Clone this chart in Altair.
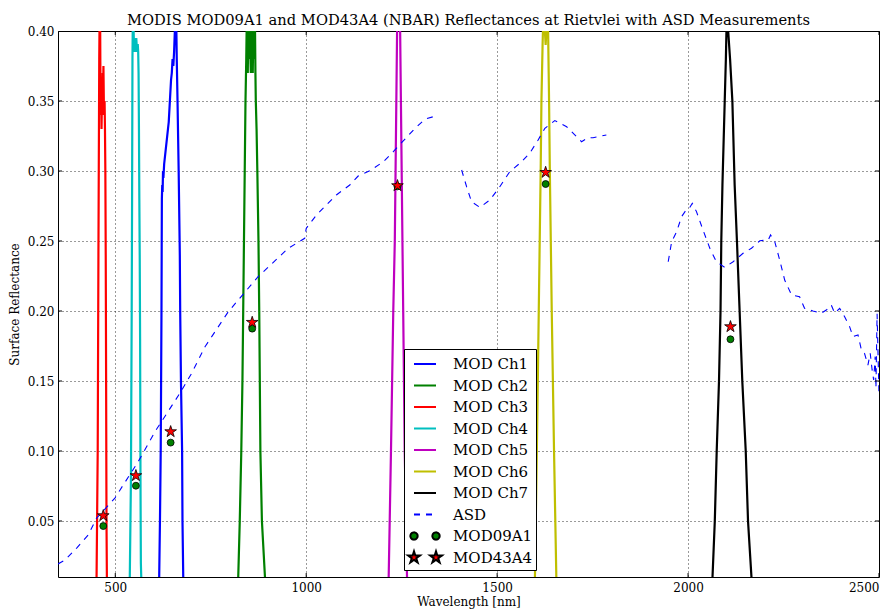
import math
import altair as alt
import pandas as pd

# ---------------- data ----------------
ch1_wl = [612, 615, 617, 619, 621, 622, 623, 624, 625, 626, 628, 630, 632, 634, 636, 638, 640, 642, 644, 646, 648, 650, 652, 654, 656, 658, 660, 661, 663, 666, 669, 670, 672, 675, 676, 678, 681]
ch1_val = [0.0, 0.01, 0.05, 0.10, 0.20, 0.28, 0.29, 0.285, 0.30, 0.295, 0.305, 0.31, 0.315, 0.32, 0.325, 0.33, 0.335, 0.345, 0.355, 0.365, 0.37, 0.38, 0.375, 0.385, 0.40, 0.42, 0.40, 0.38, 0.35, 0.30, 0.24, 0.20, 0.15, 0.10, 0.05, 0.01, 0.0]

ch2_wl = [816, 822, 826, 830, 833, 835, 839, 841, 843, 844, 845, 846, 847, 848, 849, 850, 851, 852, 853, 854, 855, 856, 857, 858, 859, 860, 861, 862, 863, 864, 865, 866, 867, 868, 870, 872, 875, 877, 880, 884, 892, 897]
ch2_val = [0.0, 0.01, 0.05, 0.10, 0.15, 0.20, 0.30, 0.35, 0.38, 0.40, 0.42, 0.39, 0.37, 0.395, 0.38, 0.40, 0.385, 0.39, 0.40, 0.38, 0.37, 0.39, 0.40, 0.385, 0.39, 0.37, 0.39, 0.40, 0.38, 0.39, 0.395, 0.40, 0.37, 0.35, 0.33, 0.30, 0.25, 0.20, 0.10, 0.05, 0.01, 0.0]

ch3_wl = [447, 451, 454, 456, 458, 459, 460, 461, 462, 463, 464, 465, 466, 467, 468, 469, 470, 471, 472, 473, 474, 475, 476, 477, 478, 481]
ch3_val = [0.0, 0.01, 0.10, 0.25, 0.38, 0.41, 0.43, 0.37, 0.34, 0.36, 0.33, 0.35, 0.34, 0.37, 0.355, 0.375, 0.35, 0.34, 0.35, 0.33, 0.30, 0.24, 0.15, 0.05, 0.01, 0.0]

ch4_wl = [535, 538, 541, 543, 544, 545, 546, 547, 548, 549, 550, 551, 552, 553, 554, 555, 556, 557, 558, 559, 560, 561, 562, 563, 564, 565, 566, 567, 569]
ch4_val = [0.0, 0.01, 0.08, 0.20, 0.28, 0.38, 0.41, 0.42, 0.40, 0.39, 0.395, 0.385, 0.395, 0.39, 0.385, 0.395, 0.39, 0.385, 0.39, 0.39, 0.385, 0.37, 0.33, 0.28, 0.24, 0.18, 0.08, 0.02, 0.0]

ch5_wl = [1205, 1216, 1222, 1228, 1232, 1234, 1236, 1238, 1242, 1246, 1248, 1250, 1252, 1254, 1258, 1264, 1275]
ch5_val = [0.0, 0.01, 0.10, 0.20, 0.25, 0.30, 0.35, 0.40, 0.46, 0.40, 0.35, 0.30, 0.25, 0.20, 0.10, 0.01, 0.0]

ch6_wl = [1590, 1599, 1604, 1609, 1614, 1616, 1619, 1621, 1623, 1625, 1627, 1629, 1631, 1633, 1635, 1636, 1638, 1643, 1649, 1655, 1665]
ch6_val = [0.0, 0.01, 0.10, 0.20, 0.30, 0.35, 0.39, 0.41, 0.42, 0.40, 0.39, 0.40, 0.42, 0.41, 0.37, 0.35, 0.30, 0.20, 0.10, 0.01, 0.0]

ch7_wl = [2055, 2064, 2070, 2075, 2081, 2085, 2087, 2090, 2096, 2099, 2102, 2105, 2110, 2116, 2122, 2128, 2135, 2142, 2151, 2157, 2166, 2175]
ch7_val = [0.0, 0.01, 0.05, 0.10, 0.15, 0.20, 0.25, 0.29, 0.35, 0.38, 0.42, 0.40, 0.38, 0.35, 0.29, 0.25, 0.20, 0.15, 0.10, 0.05, 0.01, 0.0]

asd1_wl = [350, 368, 400, 429, 451, 499, 560, 604, 669, 700, 735, 796, 874, 953, 996, 1000, 1027, 1079, 1114, 1136, 1167, 1202, 1228, 1258, 1285, 1311, 1339]
asd1_val = [0.0193, 0.022, 0.031, 0.040, 0.052, 0.0664, 0.0924, 0.1138, 0.1412, 0.1555, 0.1745, 0.1995, 0.2245, 0.2448, 0.2519, 0.259, 0.2686, 0.2829, 0.290, 0.2964, 0.3002, 0.3066, 0.3138, 0.3226, 0.3305, 0.337, 0.3393]

asd2_wl = [1407, 1420, 1433, 1455, 1481, 1507, 1533, 1564, 1586, 1607, 1625, 1651, 1682, 1708, 1721, 1738, 1751, 1786]
asd2_val = [0.3007, 0.2888, 0.278, 0.274, 0.2793, 0.2888, 0.2995, 0.3066, 0.313, 0.322, 0.3305, 0.336, 0.3316, 0.3245, 0.3209, 0.3238, 0.3238, 0.3257]

asd3_wl = [1948, 1957, 1970, 1983, 1996, 2003, 2011, 2022, 2039, 2057, 2074, 2096, 2118, 2144, 2166, 2188, 2210, 2216, 2227, 2240, 2253, 2271, 2292, 2305, 2327, 2349, 2362, 2375, 2384, 2397, 2410, 2423, 2432, 2445, 2454, 2462, 2471, 2477, 2482, 2486, 2490, 2492, 2495, 2500]
asd3_val = [0.2352, 0.2495, 0.2566, 0.2674, 0.2726, 0.2733, 0.2769, 0.271, 0.2579, 0.2448, 0.2352, 0.2312, 0.2352, 0.2412, 0.2448, 0.2502, 0.2507, 0.2543, 0.2495, 0.2364, 0.2221, 0.2114, 0.2102, 0.2019, 0.200, 0.1984, 0.2007, 0.2043, 0.1984, 0.2019, 0.1959, 0.1888, 0.1817, 0.1829, 0.1721, 0.1698, 0.1614, 0.1698, 0.1579, 0.1507, 0.1674, 0.145, 0.198, 0.140]

band_wl = [468.6, 554, 645, 858.6, 1239, 1627, 2111]
mod09_val = [0.0464, 0.0752, 0.106, 0.1874, 0.289, 0.2907, 0.1798]
mod43_val = [0.0538, 0.0824, 0.1138, 0.1919, 0.2895, 0.299, 0.1888]

x_ticks = [500, 1000, 1500, 2000, 2500]
y_ticks = [0.05, 0.10, 0.15, 0.20, 0.25, 0.30, 0.35, 0.40]
x_min, x_max = 350, 2500
y_min, y_max = 0.01, 0.40

series_names = ["MOD Ch1", "MOD Ch2", "MOD Ch3", "MOD Ch4", "MOD Ch5", "MOD Ch6", "MOD Ch7", "ASD", "MOD09A1", "MOD43A4"]
series_colors = ["#0000ff", "#008000", "#ff0000", "#00bfbf", "#bf00bf", "#bfbf00", "#000000", "#0000ff", "#008000", "#ff0000"]

# ---------------- tables ----------------
srf_rows = []
for name, wl, val in zip(series_names[:7],
                         [ch1_wl, ch2_wl, ch3_wl, ch4_wl, ch5_wl, ch6_wl, ch7_wl],
                         [ch1_val, ch2_val, ch3_val, ch4_val, ch5_val, ch6_val, ch7_val]):
    for w, v in zip(wl, val):
        srf_rows.append({"series": name, "wl": w, "val": v})
srf_df = pd.DataFrame(srf_rows)

asd_rows = []
for seg, (wl, val) in enumerate([(asd1_wl, asd1_val), (asd2_wl, asd2_val), (asd3_wl, asd3_val)]):
    for w, v in zip(wl, val):
        asd_rows.append({"seg": seg, "wl": w, "val": v})
asd_df = pd.DataFrame(asd_rows)

pts_df = pd.DataFrame({"wl": band_wl, "m09": mod09_val, "m43": mod43_val})
xt_df = pd.DataFrame({"t": x_ticks})
yt_df = pd.DataFrame({"t": y_ticks})

# empty table that only carries the legend
legend_df = pd.DataFrame({"series": pd.Series([], dtype=str),
                          "wl": pd.Series([], dtype=float),
                          "val": pd.Series([], dtype=float)})


# ---------------- marker shapes ----------------
def star(cx, ro, ri):
    pts = []
    for k in range(10):
        a = math.radians(-90 + 36 * k)
        r = ro if k % 2 == 0 else ri
        pts.append(f"{cx + r * math.cos(a):.3f},{r * math.sin(a):.3f}")
    return "M" + " L".join(pts) + " Z"


def circ(cx, r):
    return (f"M{cx - r:.3f},0 A{r},{r} 0 1,0 {cx + r:.3f},0 "
            f"A{r},{r} 0 1,0 {cx - r:.3f},0 Z")


STAR = star(0, 1, 0.382)
LEG_CIRC = circ(-1, 0.33) + " " + circ(1, 0.33)
LEG_STAR = star(-1, 0.56, 0.214) + " " + star(1, 0.56, 0.214)

FONT = "DejaVu Serif"
x_scale = alt.Scale(domain=[x_min, x_max], nice=False, zero=False)
y_scale = alt.Scale(domain=[y_min, y_max], nice=False, zero=False)

x_axis = alt.Axis(title="Wavelength [nm]", values=x_ticks,
                  format="d", labelFontSize=12, titleFontSize=12, labelPadding=5,
                  titlePadding=3)
y_axis = alt.Axis(title="Surface Reflectance", values=y_ticks,
                  format=".2f", labelFontSize=12, titleFontSize=12, labelPadding=4,
                  titlePadding=6)

leg_fill = ["transparent"] * 8 + ["#008000", "#ff0000"]
leg_stroke = series_colors[:8] + ["#000000", "#000000"]
leg_shape = ["stroke"] * 8 + [LEG_CIRC, LEG_STAR]
leg_dash = [[1, 0]] * 7 + [[6, 6]] + [[1, 0], [1, 0]]
leg_width = [2] * 7 + [1.3, 0.8, 0.8]

legend = alt.Legend(
    title=None, orient="none", legendX=346, legendY=318,
    fillColor="white", strokeColor="black", padding=3, symbolOffset=6,
    labelFont=FONT, labelFontSize=15, labelColor="black", labelOffset=16,
    symbolSize=484, rowPadding=1.5, labelLimit=200,
    symbolOpacity=1,
)

srf = alt.Chart(srf_df).mark_line(clip=True, strokeWidth=2.2).encode(
    x=alt.X("wl:Q", scale=x_scale, axis=x_axis),
    y=alt.Y("val:Q", scale=y_scale, axis=y_axis),
    color=alt.Color("series:N", scale=alt.Scale(domain=series_names[:7], range=series_colors[:7]),
                    legend=None),
)

asd = alt.Chart(asd_df).mark_line(clip=True, color="#0000ff", strokeWidth=1.1,
                                  strokeDash=[6, 6]).encode(
    x="wl:Q", y="val:Q", detail="seg:N",
)

p09 = alt.Chart(pts_df).mark_point(shape="circle", filled=True, fill="#008000",
                                   stroke="#000000", strokeWidth=0.8, size=48,
                                   opacity=1, clip=True).encode(x="wl:Q", y="m09:Q")
p43 = alt.Chart(pts_df).mark_point(shape=STAR, filled=True, fill="#ff0000",
                                   stroke="#000000", strokeWidth=0.8, size=150,
                                   opacity=1, clip=True).encode(x="wl:Q", y="m43:Q")

# inward ticks on all four sides (half of each tick is clipped away)
tick_style = dict(clip=True, color="black", thickness=1, size=8, opacity=1)
xt_bot = alt.Chart(xt_df).mark_tick(orient="vertical", **tick_style).encode(
    x="t:Q", y=alt.datum(y_min))
xt_top = alt.Chart(xt_df).mark_tick(orient="vertical", **tick_style).encode(
    x="t:Q", y=alt.datum(y_max))
yt_left = alt.Chart(yt_df).mark_tick(orient="horizontal", **tick_style).encode(
    y="t:Q", x=alt.datum(x_min))
yt_right = alt.Chart(yt_df).mark_tick(orient="horizontal", **tick_style).encode(
    y="t:Q", x=alt.datum(x_max))

leg = alt.Chart(legend_df).mark_point(clip=True).encode(
    x="wl:Q", y="val:Q",
    fill=alt.Fill("series:N", scale=alt.Scale(domain=series_names, range=leg_fill), legend=legend),
    stroke=alt.Stroke("series:N", scale=alt.Scale(domain=series_names, range=leg_stroke), legend=legend),
    shape=alt.Shape("series:N", scale=alt.Scale(domain=series_names, range=leg_shape), legend=legend),
    strokeDash=alt.StrokeDash("series:N", scale=alt.Scale(domain=series_names, range=leg_dash), legend=legend),
    strokeWidth=alt.StrokeWidth("series:N", scale=alt.Scale(domain=series_names, range=leg_width), legend=legend),
)

chart = alt.layer(srf, asd, p09, p43, xt_bot, xt_top, yt_left, yt_right, leg).resolve_scale(
    color="independent"
).properties(
    width=821, height=546,
    background="white",
    title=alt.Title("MODIS MOD09A1 and MOD43A4 (NBAR) Reflectances at Rietvlei with ASD Measurements",
                    font=FONT, fontSize=14.7, fontWeight="normal", color="black",
                    anchor="middle", offset=-3),
    autosize=alt.AutoSizeParams(type="none"),
    padding={"left": 58, "top": 31, "right": 17, "bottom": 36},
).configure_view(stroke="black", strokeWidth=1).configure_axis(
    grid=True, gridColor="black", gridDash=[1, 3], gridWidth=0.8, gridOpacity=1,
    ticks=False, domain=False, labelFont=FONT, titleFont=FONT,
    labelColor="black", titleColor="black", titleFontWeight="normal",
)

chart.save("out.html", embed_options={"renderer": "svg", "actions": False})
